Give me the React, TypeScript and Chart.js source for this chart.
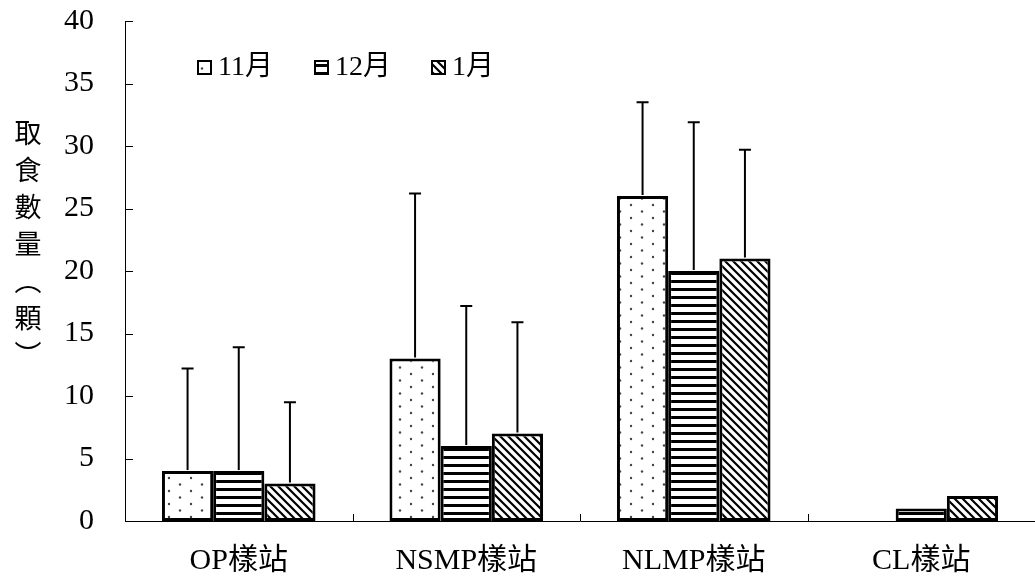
import React, { useEffect, useRef } from 'react';
import { Chart, registerables } from 'chart.js';

Chart.register(...registerables);

const categories = ['OP樣站', 'NSMP樣站', 'NLMP樣站', 'CL樣站'];
const seriesNames = ['11月', '12月', '1月'];
const novValues = [4, 13, 26, 0];
const decValues = [4, 6, 20, 1];
const janValues = [3, 7, 21, 2];
const novErrors = [8.2, 13.2, 7.5, 0];
const decErrors = [9.9, 11.2, 11.9, 0];
const janErrors = [6.5, 8.9, 8.7, 0];
const yTitleChars = ['取', '食', '數', '量', '︵', '顆', '︶'];

const FONT = "'Liberation Serif', 'Noto Sans CJK TC', serif";

function makePattern(kind: string): CanvasPattern | string {
  const c = document.createElement('canvas');
  const ctx = c.getContext('2d');
  if (!ctx) return '#fff';
  if (kind === 'dots') {
    c.width = 22; c.height = 13;
    ctx.fillStyle = '#fff'; ctx.fillRect(0, 0, 22, 13);
    ctx.fillStyle = '#444';
    ctx.beginPath(); ctx.arc(4, 3.5, 1.2, 0, Math.PI * 2); ctx.fill();
    ctx.beginPath(); ctx.arc(15, 10, 1.2, 0, Math.PI * 2); ctx.fill();
  } else if (kind === 'hstripes') {
    c.width = 8; c.height = 8;
    ctx.fillStyle = '#fff'; ctx.fillRect(0, 0, 8, 8);
    ctx.fillStyle = '#000'; ctx.fillRect(0, 0, 8, 3);
  } else {
    c.width = 8; c.height = 8;
    ctx.fillStyle = '#fff'; ctx.fillRect(0, 0, 8, 8);
    ctx.strokeStyle = '#000'; ctx.lineWidth = 2.2;
    ctx.beginPath();
    ctx.moveTo(-1, -1); ctx.lineTo(9, 9);
    ctx.moveTo(-5, 3); ctx.lineTo(5, 13);
    ctx.moveTo(3, -5); ctx.lineTo(13, 5);
    ctx.stroke();
  }
  const p = ctx.createPattern(c, 'repeat');
  return p || '#fff';
}

export default function App() {
  const ref = useRef<HTMLCanvasElement | null>(null);
  useEffect(() => {
    if (!ref.current) return;
    const fills = [makePattern('dots'), makePattern('hstripes'), makePattern('diag')];
    const errs = [novErrors, decErrors, janErrors];

    const extras = {
      id: 'extras',
      afterDatasetsDraw(chart: any) {
        const ctx = chart.ctx;
        const y = chart.scales.y;
        const x = chart.scales.x;
        const area = chart.chartArea;
        ctx.save();
        // error bars
        ctx.strokeStyle = '#000';
        ctx.lineWidth = 2;
        chart.data.datasets.forEach((ds: any, di: number) => {
          const meta = chart.getDatasetMeta(di);
          meta.data.forEach((bar: any, i: number) => {
            const e = errs[di][i];
            if (!e) return;
            const v = ds.data[i];
            const top = y.getPixelForValue(v + e);
            const base = y.getPixelForValue(v) - 1;
            ctx.beginPath();
            ctx.moveTo(bar.x, base);
            ctx.lineTo(bar.x, top);
            ctx.moveTo(bar.x - 6, top);
            ctx.lineTo(bar.x + 6, top);
            ctx.stroke();
          });
        });
        // inward x ticks at category boundaries
        ctx.lineWidth = 1;
        for (let i = 0; i < categories.length - 1; i++) {
          const bx = Math.round((x.getPixelForValue(i) + x.getPixelForValue(i + 1)) / 2) + 0.5;
          ctx.beginPath();
          ctx.moveTo(bx, area.bottom);
          ctx.lineTo(bx, area.bottom - 7);
          ctx.stroke();
        }
        // inward y ticks
        y.ticks.forEach((t: any) => {
          const ty = Math.round(y.getPixelForValue(t.value)) + 0.5;
          ctx.beginPath();
          ctx.moveTo(area.left, ty);
          ctx.lineTo(area.left + 8, ty);
          ctx.stroke();
        });
        // legend
        const legendX = [198, 315, 432];
        ctx.font = `28px ${FONT}`;
        ctx.textBaseline = 'middle';
        ctx.textAlign = 'left';
        seriesNames.forEach((name, i) => {
          const lx = legendX[i];
          ctx.fillStyle = fills[i];
          ctx.fillRect(lx, 61, 13, 13);
          ctx.strokeStyle = '#000';
          ctx.lineWidth = 2;
          ctx.strokeRect(lx, 61, 13, 13);
          ctx.fillStyle = '#000';
          ctx.fillText(name, lx + 20, 68);
        });
        // y title, stacked
        ctx.font = `27px 'Noto Sans CJK TC', sans-serif`;
        ctx.textAlign = 'center';
        yTitleChars.forEach((ch, i) => {
          ctx.fillText(ch, 28, 133 + i * 37);
        });
        ctx.restore();
      },
    };

    const chart = new Chart(ref.current, {
      type: 'bar',
      data: {
        labels: categories,
        datasets: seriesNames.map((name, i) => ({
          label: name,
          data: [novValues, decValues, janValues][i],
          backgroundColor: fills[i] as any,
          borderColor: '#000',
          borderWidth: 3,
          borderSkipped: false,
          categoryPercentage: 0.675,
          barPercentage: 1.0,
        })),
      },
      options: {
        responsive: false,
        animation: false,
        layout: { padding: { top: 21, right: 0, bottom: 0, left: 0 } },
        plugins: {
          legend: { display: false },
          tooltip: { enabled: false },
        },
        scales: {
          x: {
            grid: { display: false },
            border: { display: true, color: '#000', width: 1 },
            ticks: {
              color: '#000',
              font: { family: FONT, size: 30 },
              padding: 14,
              maxRotation: 0,
            },
            afterFit(scale: any) {
              scale.height = 59;
              scale.paddingLeft = 0;
              scale.paddingRight = 0;
            },
          },
          y: {
            min: 0,
            max: 40,
            grid: { display: false },
            border: { display: true, color: '#000', width: 1 },
            ticks: {
              stepSize: 5,
              color: '#000',
              font: { family: FONT, size: 30 },
              padding: 23,
            },
            afterFit(scale: any) {
              scale.width = 125;
              scale.paddingTop = 0;
              scale.paddingBottom = 0;
            },
          },
        },
      },
      plugins: [extras],
    });
    return () => chart.destroy();
  }, []);

  return (
    <div style={{ position: 'absolute', left: 0, top: 0, width: 1035, height: 580, background: '#fff' }}>
      <canvas ref={ref} width={1035} height={580} />
    </div>
  );
}
